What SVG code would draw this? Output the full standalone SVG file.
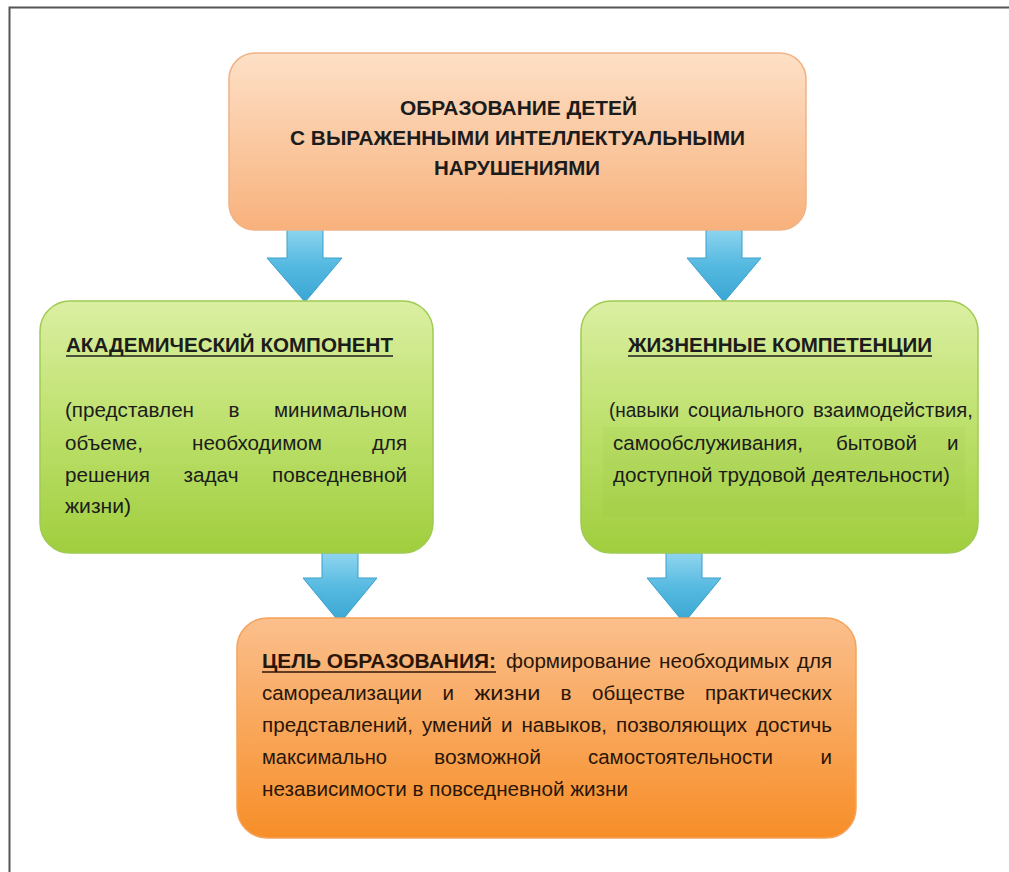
<svg xmlns="http://www.w3.org/2000/svg" width="1009" height="872" viewBox="0 0 1009 872">
<defs>
<linearGradient id="gTop" x1="0" y1="0" x2="0" y2="1">
<stop offset="0" stop-color="#fde0c6"/><stop offset="1" stop-color="#f8b17c"/>
</linearGradient>
<linearGradient id="gGreen" x1="0" y1="0" x2="0" y2="1">
<stop offset="0" stop-color="#dbefa2"/><stop offset="0.5" stop-color="#bde06c"/><stop offset="1" stop-color="#a0ce3e"/>
</linearGradient>
<linearGradient id="gBottom" x1="0" y1="0" x2="0" y2="1">
<stop offset="0" stop-color="#fbbf8c"/><stop offset="1" stop-color="#f78e28"/>
</linearGradient>
<linearGradient id="gArrow" x1="0" y1="0" x2="0" y2="1">
<stop offset="0" stop-color="#8fd5ef"/><stop offset="0.5" stop-color="#55b9e0"/><stop offset="1" stop-color="#3aa6d3"/>
</linearGradient>
<style>
.t{font-family:"Liberation Sans",Arial,sans-serif;font-size:20.5px;fill:#1c1c1c;}
.h{font-family:"Liberation Sans",Arial,sans-serif;font-size:21px;font-weight:bold;fill:#1c1c1c;}
.br{fill:#2a1608;}
.ul{stroke:#1c1c1c;stroke-width:1.6;}
.arrow{fill:url(#gArrow);stroke:#3b9fcb;stroke-width:1;}
</style>
</defs>
<rect width="1009" height="872" fill="#ffffff"/>
<path d="M9.5 872 V7.5 H1009" fill="none" stroke="#555555" stroke-width="2"/>

<g id="connectors">
<polygon class="arrow" points="287,228 323,228 323,258 342,258 305,302 267,258 287,258"/>
<polygon class="arrow" points="706,228 742,228 742,258 761,258 724,302 687,258 706,258"/>
<polygon class="arrow" points="322,553 358,553 358,578 377,578 340,623 303,578 322,578"/>
<polygon class="arrow" points="666,553 702,553 702,578 721,578 684,623 647,578 666,578"/>
</g>

<g id="node-top">
<rect x="229" y="53" width="577" height="177" rx="26" fill="url(#gTop)" stroke="#f0b386" stroke-width="1.5"/>
<text class="h" x="400" y="115" textLength="237" lengthAdjust="spacingAndGlyphs">ОБРАЗОВАНИЕ ДЕТЕЙ</text>
<text class="h" x="290" y="145" textLength="455" lengthAdjust="spacingAndGlyphs">С ВЫРАЖЕННЫМИ ИНТЕЛЛЕКТУАЛЬНЫМИ</text>
<text class="h" x="434" y="175" textLength="166" lengthAdjust="spacingAndGlyphs">НАРУШЕНИЯМИ</text>
</g>

<g id="node-academic">
<rect x="40" y="301" width="393" height="252" rx="30" fill="url(#gGreen)" stroke="#9fcb52" stroke-width="1.5"/>
<text class="h" x="66" y="352" textLength="327" lengthAdjust="spacingAndGlyphs">АКАДЕМИЧЕСКИЙ КОМПОНЕНТ</text>
<line class="ul" x1="66" y1="356" x2="393" y2="356"/>
<text class="t" y="417"><tspan x="65" textLength="129" lengthAdjust="spacingAndGlyphs">(представлен</tspan><tspan x="228.5" textLength="11" lengthAdjust="spacingAndGlyphs">в</tspan><tspan x="274" textLength="133" lengthAdjust="spacingAndGlyphs">минимальном</tspan></text>
<text class="t" y="450"><tspan x="65" textLength="78" lengthAdjust="spacingAndGlyphs">объеме,</tspan><tspan x="192" textLength="130" lengthAdjust="spacingAndGlyphs">необходимом</tspan><tspan x="372" textLength="35" lengthAdjust="spacingAndGlyphs">для</tspan></text>
<text class="t" y="482"><tspan x="65" textLength="85" lengthAdjust="spacingAndGlyphs">решения</tspan><tspan x="183.5" textLength="55" lengthAdjust="spacingAndGlyphs">задач</tspan><tspan x="272" textLength="135" lengthAdjust="spacingAndGlyphs">повседневной</tspan></text>
<text class="t" x="65" y="513" textLength="66" lengthAdjust="spacingAndGlyphs">жизни)</text>
</g>

<g id="node-life">
<rect x="581" y="301" width="397" height="252" rx="30" fill="url(#gGreen)" stroke="#9fcb52" stroke-width="1.5"/>
<rect x="603" y="427" width="362" height="90" fill="#8fbf3a" opacity="0.13"/>
<text class="h" x="628" y="352" textLength="304" lengthAdjust="spacingAndGlyphs">ЖИЗНЕННЫЕ КОМПЕТЕНЦИИ</text>
<line class="ul" x1="628" y1="356" x2="932" y2="356"/>
<text class="t" y="417"><tspan x="609" textLength="70" lengthAdjust="spacingAndGlyphs">(навыки</tspan><tspan x="688" textLength="116" lengthAdjust="spacingAndGlyphs">социального</tspan><tspan x="813" textLength="160" lengthAdjust="spacingAndGlyphs">взаимодействия,</tspan></text>
<text class="t" y="450"><tspan x="613" textLength="190" lengthAdjust="spacingAndGlyphs">самообслуживания,</tspan><tspan x="836" textLength="81" lengthAdjust="spacingAndGlyphs">бытовой</tspan><tspan x="947" textLength="11.5" lengthAdjust="spacingAndGlyphs">и</tspan></text>
<text class="t" x="613" y="482" textLength="337" lengthAdjust="spacingAndGlyphs">доступной трудовой деятельности)</text>
</g>

<g id="node-goal">
<rect x="237" y="618" width="619" height="220" rx="30" fill="url(#gBottom)" stroke="#f5a25a" stroke-width="1.5"/>
<text class="h br" x="262" y="668" textLength="234" lengthAdjust="spacingAndGlyphs">ЦЕЛЬ ОБРАЗОВАНИЯ:</text>
<line class="ul" x1="262" y1="672" x2="496" y2="672" style="stroke:#2a1608"/>
<text class="t br" y="668"><tspan x="506" textLength="145" lengthAdjust="spacingAndGlyphs">формирование</tspan><tspan x="659" textLength="130" lengthAdjust="spacingAndGlyphs">необходимых</tspan><tspan x="797" textLength="35" lengthAdjust="spacingAndGlyphs">для</tspan></text>
<text class="t br" y="700"><tspan x="262" textLength="160" lengthAdjust="spacingAndGlyphs">самореализации</tspan><tspan x="442.5" textLength="11.5" lengthAdjust="spacingAndGlyphs">и</tspan><tspan x="474.5" textLength="66" lengthAdjust="spacingAndGlyphs">жизни</tspan><tspan x="560.5" textLength="11" lengthAdjust="spacingAndGlyphs">в</tspan><tspan x="592" textLength="93" lengthAdjust="spacingAndGlyphs">обществе</tspan><tspan x="705" textLength="127" lengthAdjust="spacingAndGlyphs">практических</tspan></text>
<text class="t br" y="732"><tspan x="262" textLength="151" lengthAdjust="spacingAndGlyphs">представлений,</tspan><tspan x="422" textLength="70" lengthAdjust="spacingAndGlyphs">умений</tspan><tspan x="501" textLength="11.5" lengthAdjust="spacingAndGlyphs">и</tspan><tspan x="521.5" textLength="85.5" lengthAdjust="spacingAndGlyphs">навыков,</tspan><tspan x="616" textLength="131" lengthAdjust="spacingAndGlyphs">позволяющих</tspan><tspan x="756" textLength="76" lengthAdjust="spacingAndGlyphs">достичь</tspan></text>
<text class="t br" y="764"><tspan x="262" textLength="125" lengthAdjust="spacingAndGlyphs">максимально</tspan><tspan x="434" textLength="107" lengthAdjust="spacingAndGlyphs">возможной</tspan><tspan x="588" textLength="185" lengthAdjust="spacingAndGlyphs">самостоятельности</tspan><tspan x="820.5" textLength="11.5" lengthAdjust="spacingAndGlyphs">и</tspan></text>
<text class="t br" x="262" y="796" textLength="366" lengthAdjust="spacingAndGlyphs">независимости в повседневной жизни</text>
</g>
</svg>
